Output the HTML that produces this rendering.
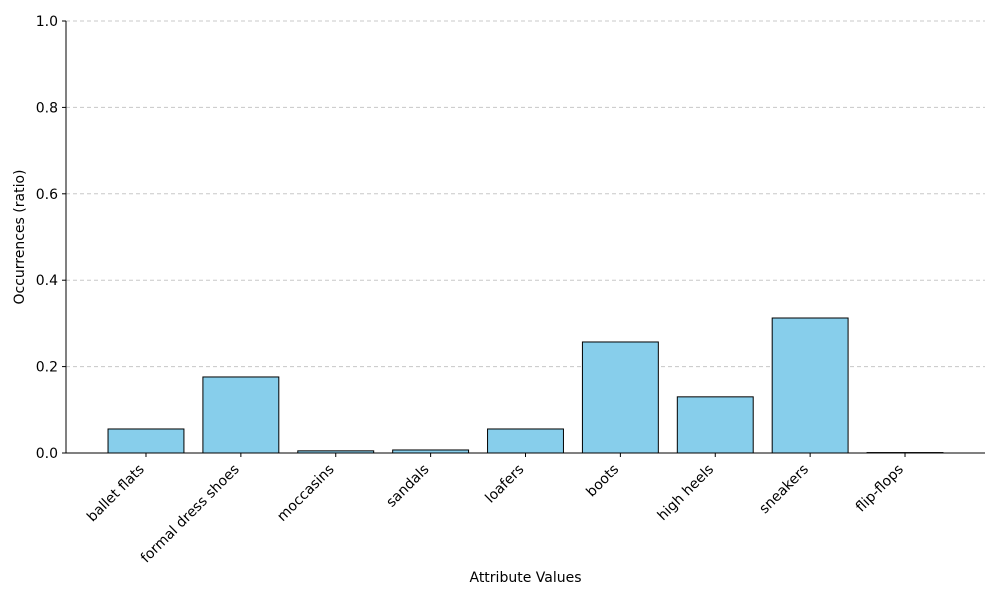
<!DOCTYPE html>
<html><head><meta charset="utf-8"><style>
body{margin:0;background:#fff;}
svg{display:block;font-family:"DejaVu Sans","Liberation Sans",sans-serif;}
</style></head><body>
<svg id="chart" width="1000" height="600" viewBox="0 0 1000 600"></svg>
<script>
const categories = ["ballet flats","formal dress shoes","moccasins","sandals","loafers","boots","high heels","sneakers","flip-flops"];
const values = [0.0556,0.176,0.005,0.007,0.0556,0.257,0.13,0.3125,0.001];
const yTicks = [0,0.2,0.4,0.6,0.8,1.0];
const yTickLabels = ["0.0","0.2","0.4","0.6","0.8","1.0"];

const NS="http://www.w3.org/2000/svg";
const svg=document.getElementById('chart');
const L=66,R=985,T=21,B=453;
const xMin=-0.843,xMax=categories.length-1+0.843;
const xs=v=>L+(v-xMin)/(xMax-xMin)*(R-L);
const ys=v=>B-v*(B-T);
function mk(tag,attrs,parent){const e=document.createElementNS(NS,tag);for(const k in attrs)e.setAttribute(k,attrs[k]);(parent||svg).appendChild(e);return e;}

yTicks.forEach((t,i)=>{
  if(t>0){const g=mk('line',{x1:L,x2:R,y1:ys(t),y2:ys(t),stroke:'#c8c8c8','stroke-dasharray':'4,3','stroke-width':1});
  
  }
  const tk=mk('line',{x1:L-4,x2:L,y1:ys(t),y2:ys(t),stroke:'#000'});
  
  
  const lb=mk('text',{x:L-8,y:ys(t)+5,'text-anchor':'end','font-size':14});
  lb.textContent=yTickLabels[i];
  
  
});

const bw=0.8*(R-L)/(xMax-xMin);
categories.forEach((c,i)=>{
  const x=xs(i);
  const b=mk('rect',{x:x-bw/2,y:ys(values[i]),width:bw,height:B-ys(values[i]),fill:'#87ceeb',stroke:'#000','stroke-width':1});
  
  
  const tk=mk('line',{x1:x,x2:x,y1:B,y2:B+4,stroke:'#000'});
  
  
  const lx=x-1, ly=B+17;
  const lb=mk('text',{x:lx,y:ly,'text-anchor':'end','font-size':14,transform:`rotate(-45 ${lx} ${ly})`});
  lb.textContent=c;
  
  
});

const ax=mk('line',{x1:L,x2:L,y1:T,y2:B,stroke:'#000'});


const bx=mk('line',{x1:L,x2:R,y1:B,y2:B,stroke:'#000'});



const xt=mk('text',{x:(L+R)/2,y:582,'text-anchor':'middle','font-size':14});
xt.textContent='Attribute Values';


const yt=mk('text',{x:24,y:(T+B)/2,'text-anchor':'middle','font-size':14,transform:`rotate(-90 24 ${(T+B)/2})`});
yt.textContent='Occurrences (ratio)';


</script>
</body></html>
